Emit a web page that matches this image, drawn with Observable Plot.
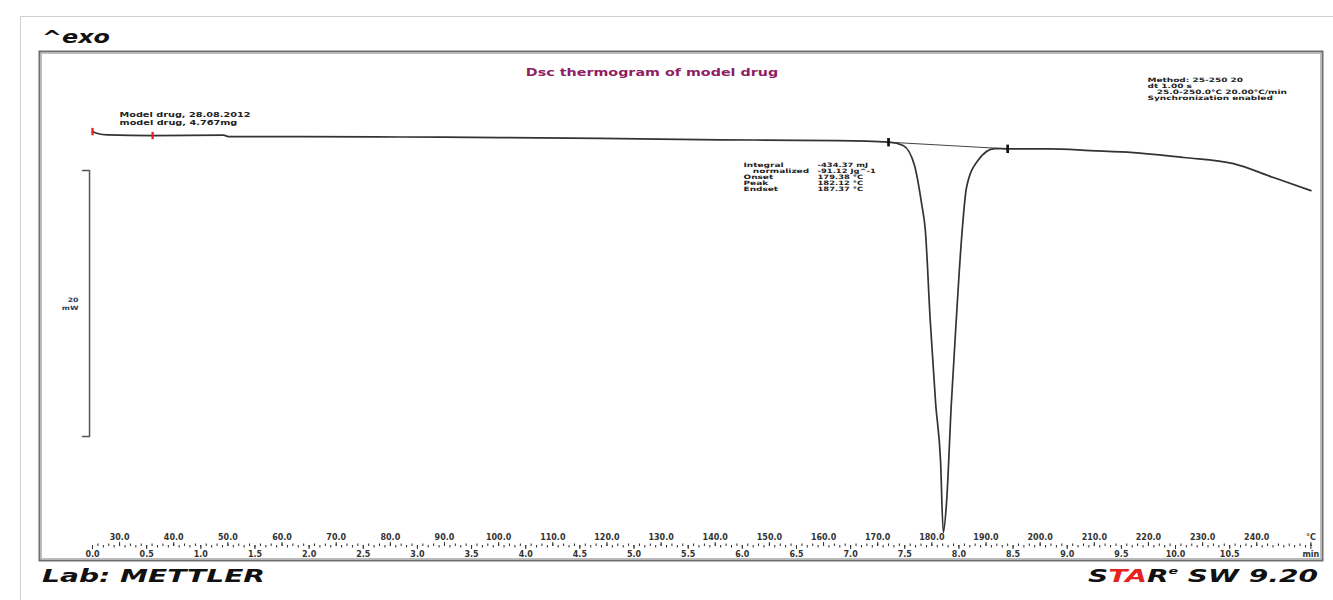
<!DOCTYPE html>
<html>
<head>
<meta charset="utf-8">
<script src="https://cdn.jsdelivr.net/npm/d3@7"></script>
<script src="https://cdn.jsdelivr.net/npm/@observablehq/plot@0.6"></script>
<style>
  body { margin: 0; background: #fff; }
  #wrap { position: relative; width: 1333px; height: 600px; overflow: hidden; }
  #wrap svg { position: absolute; left: 0; top: 0; }
  #edge { position: absolute; left: 20px; top: 16px; right: 0; bottom: 0;
          border-top: 1px solid #cfcfcf; border-left: 1px solid #cfcfcf; }
  .brand { position: absolute; font-family: "DejaVu Sans", sans-serif; font-weight: bold;
           font-style: italic; white-space: nowrap; line-height: 1; color: #111;
           transform-origin: 0 50%; }
  .brand .ta { color: #e3241f; }
  .brand sup { font-size: 0.5em; vertical-align: 0.85em; }
</style>
</head>
<body>
<div id="wrap"><div id="edge"></div></div>
<script>
// DSC run: 25–250 °C at 20 °C/min
const startTemp = 25;
const endTemp = 250;
const heatingRate = 20; // °C/min

// Heat-flow trace (°C, mW)
const peakTemp = 182.12;
const curveTemp = [25.0, 25.9, 27.8, 36.1, 49.2, 50.1, 63.4, 81.9, 100.3, 118.8, 141.0, 162.6,
  172.0, 174.7, 176.8, 178.1, 178.8, 179.7, 180.7, 181.6, peakTemp, 182.7, 183.6, 184.5, 185.5,
  186.4, 188.5, 191.6, 194.0, 201.9, 209.3, 217.2, 226.5, 235.7, 243.1, 250.0];
const curveHeat = [0.15, 0.0, -0.10, -0.15, -0.12, -0.23, -0.23, -0.26, -0.30, -0.36, -0.47, -0.53,
  -0.65, -0.90, -2.41, -5.26, -7.29, -14.06, -20.30, -24.59, -30.0, -27.82, -20.30, -14.06, -7.82,
  -4.06, -2.03, -1.13, -1.15, -1.15, -1.28, -1.43, -1.80, -2.26, -3.31, -4.29];

// Integration limits and the curve start markers
const limitTemp = [172.0, 194.0];
const limitHeat = [-0.65, -1.15];
const startMarkTemp = [25.0, 36.1];
const startMarkHeat = [0.15, -0.15];

// Peak evaluation results
const integralLabels = ["Integral", "\u00a0\u00a0\u00a0normalized", "Onset", "Peak", "Endset"];
const integralValues = ["-434.37 mJ", "-91.12 Jg^-1", "179.38 °C", `${peakTemp.toFixed(2)} °C`, "187.37 °C"];

// Scale bar
const scaleBarTemp = 24.45;
const scaleBarTop = -2.78;
const scaleBarSpan = 20; // mW

// Axis tick labels
const timeMajor = [0.0, 0.5, 1.0, 1.5, 2.0, 2.5, 3.0, 3.5, 4.0, 4.5, 5.0, 5.5, 6.0, 6.5, 7.0, 7.5,
  8.0, 8.5, 9.0, 9.5, 10.0, 10.5];
const tempMajor = [30, 40, 50, 60, 70, 80, 90, 100, 110, 120, 130, 140, 150, 160, 170, 180, 190,
  200, 210, 220, 230, 240];

const title = "Dsc thermogram of model drug";
const sampleInfo = ["Model drug, 28.08.2012", "model drug, 4.767mg"];
const methodInfo = ["Method: 25-250 20", "dt 1.00 s", "\u00a0\u00a0\u00a025.0-250.0°C 20.00°C/min", "Synchronization enabled"];

const curve = curveTemp.map((T, i) => ({T, mW: curveHeat[i]}));
const limits = limitTemp.map((T, i) => ({T, mW: limitHeat[i]}));
const startMarks = startMarkTemp.map((T, i) => ({T, mW: startMarkHeat[i]}));
const toTemp = t => startTemp + heatingRate * t;
const timeMinor = d3.range(0, (endTemp - startTemp) / heatingRate, 0.1).map(toTemp);
const tempMinor = d3.range(startTemp + 1, endTemp + 1, 2);
const bracketArm = 1.3;
const bracket = [
  {T: scaleBarTemp - bracketArm, mW: scaleBarTop},
  {T: scaleBarTemp, mW: scaleBarTop},
  {T: scaleBarTemp, mW: scaleBarTop - scaleBarSpan},
  {T: scaleBarTemp - bracketArm, mW: scaleBarTop - scaleBarSpan}
];

// narrow vertical bar used for the curve markers
const barSymbol = {
  draw(context, size) {
    const s = Math.sqrt(size / Math.PI);
    context.rect(-s * 0.45, -s * 1.4, s * 0.9, s * 2.8);
  }
};

const ink = "#2a2a2a";
const small = {fontSize: 6, fontWeight: "bold", fill: "#222", lineHeight: 1, lineAnchor: "middle"};

const chart = Plot.plot({
  width: 1333,
  height: 600,
  marginLeft: 39,
  marginRight: 11,
  marginTop: 51,
  marginBottom: 40,
  x: {domain: [15.21, 252.14]},
  y: {domain: [-32.11, 6.17], axis: null},
  style: {fontFamily: "'DejaVu Sans', sans-serif", background: "transparent", overflow: "visible"},
  marks: [
    Plot.frame({stroke: "#6f6f6f", strokeWidth: 2}),
    Plot.frame({stroke: "#bdbdbd", strokeWidth: 1, inset: 2}),

    // time axis (min), ticks hanging below the tick row
    Plot.axisX(timeMinor, {anchor: "bottom", label: null, tickSize: 2.5, dy: -15, tickFormat: () => "", color: ink}),
    Plot.axisX(timeMajor.map(toTemp).concat([endTemp]), {
      anchor: "bottom", label: null, tickSize: 4, tickPadding: 2, dy: -15, color: "#333",
      fontSize: 8, fontWeight: "bold",
      tickFormat: d => d === endTemp ? "min" : ((d - startTemp) / heatingRate).toFixed(1)
    }),
    // temperature axis (°C), ticks pointing up from the same row
    Plot.axisX(tempMinor, {anchor: "top", label: null, tickSize: 2.5, dy: 494, tickFormat: () => "", color: ink}),
    Plot.axisX(tempMajor.concat([endTemp]), {
      anchor: "top", label: null, tickSize: 4, tickPadding: 2, dy: 494, color: "#333",
      fontSize: 8, fontWeight: "bold",
      tickFormat: d => d === endTemp ? "°C" : d.toFixed(1)
    }),

    // 20 mW scale bar
    Plot.line(bracket, {x: "T", y: "mW", stroke: "#555", strokeWidth: 1.5}),
    Plot.text([{T: scaleBarTemp, mW: scaleBarTop - scaleBarSpan / 2}], {
      x: "T", y: "mW", text: () => `${scaleBarSpan}\nmW`, textAnchor: "end", dx: -11,
      fontSize: 6, fontWeight: "bold", fill: "#2b3a58", lineHeight: 1.3, ariaDescription: "scale"
    }),

    // baseline under the peak
    Plot.link([limits], {
      x1: d => d[0].T, y1: d => d[0].mW, x2: d => d[1].T, y2: d => d[1].mW,
      stroke: "#444", strokeWidth: 1
    }),
    // heat-flow curve
    Plot.line(curve, {x: "T", y: "mW", stroke: "#333", strokeWidth: 1.7, curve: "monotone-x"}),
    Plot.dot(limits, {x: "T", y: "mW", symbol: barSymbol, r: 3, fill: "#111"}),
    Plot.dot(startMarks, {x: "T", y: "mW", symbol: barSymbol, r: 2.6, fill: "#e3241f"}),

    // annotations
    Plot.text([title], {frameAnchor: "top", lineAnchor: "middle", dx: -29, dy: 21, fontSize: 11,
      fontWeight: "bold", fill: "#8e1f64", ariaDescription: "title"}),
    Plot.text([sampleInfo.join("\n")], {frameAnchor: "top-left", lineAnchor: "middle", textAnchor: "start",
      dx: 80, dy: 67, fontSize: 7.5, fontWeight: "bold", fill: "#222", lineHeight: 1.07, ariaDescription: "sample"}),
    Plot.text([methodInfo.join("\n")], {frameAnchor: "top-right", textAnchor: "start", dx: -175, dy: 37.7,
      ...small, ariaDescription: "method"}),
    Plot.text([integralLabels.join("\n")], {frameAnchor: "top-left", textAnchor: "start", dx: 704, dy: 126,
      ...small, ariaDescription: "labels"}),
    Plot.text([integralValues.join("\n")], {frameAnchor: "top-left", textAnchor: "start", dx: 778, dy: 126,
      ...small, ariaDescription: "values"})
  ]
});

// the instrument printout uses wide, horizontally stretched lettering
const stretch = {scale: 1.3, title: 1.3, sample: 1.3, method: 1.5, labels: 1.5, values: 1.4};
d3.select(chart).selectAll("g[aria-description]").each(function() {
  const s = stretch[this.getAttribute("aria-description")];
  if (!s) return;
  d3.select(this).selectAll("text").attr("transform", function() {
    return (this.getAttribute("transform") || "") + ` scale(${s},1)`;
  });
});

const wrap = document.getElementById("wrap");
wrap.appendChild(chart);

// instrument marks around the plot frame, stretched to their widths
function brand(html, left, top, width) {
  const el = document.createElement("div");
  el.className = "brand";
  el.innerHTML = html;
  el.style.left = left + "px";
  el.style.top = top + "px";
  el.style.fontSize = "18px";
  wrap.appendChild(el);
  const w = el.getBoundingClientRect().width;
  el.style.transform = `scaleX(${width / w})`;
}
brand("^exo", 42, 28, 68);
brand("Lab: METTLER", 42, 567, 223);
brand('S<span class="ta">TA</span>R<sup>e</sup> SW 9.20', 1088, 567, 230);
</script>
</body>
</html>
